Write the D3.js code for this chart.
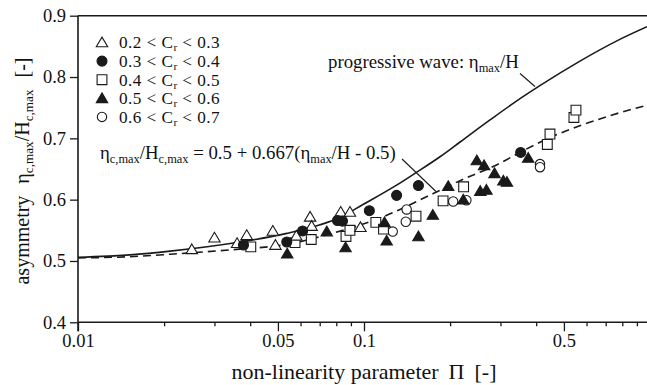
<!DOCTYPE html>
<html><head><meta charset="utf-8">
<script src="https://cdn.jsdelivr.net/npm/d3@7"></script>
<style>
html,body{margin:0;padding:0;background:#fff;}
svg text{font-family:"Liberation Serif","Times New Roman",serif !important;fill:#111;}
</style></head>
<body><svg id="chart" width="647" height="385"></svg>
<script>
// ---------- data (Π, η_c,max/H_c,max) ----------
const seriesLabels = ["0.2", "0.3", "0.4", "0.5", "0.6", "0.7"];
const triOpen = [[0.025,0.519],[0.030,0.538],[0.036,0.529],[0.0389,0.542],[0.048,0.549],[0.049,0.526],[0.058,0.541],[0.0648,0.572],[0.0656,0.557],[0.0829,0.580],[0.0893,0.580],[0.0972,0.555]];
const circFilled = [[0.0379,0.526],[0.0537,0.531],[0.061,0.549],[0.0808,0.566],[0.0841,0.565],[0.1044,0.582],[0.130,0.607],[0.155,0.623],[0.353,0.677]];
const sqOpen = [[0.0402,0.523],[0.0574,0.530],[0.0654,0.535],[0.0865,0.540],[0.0893,0.550],[0.110,0.563],[0.117,0.552],[0.152,0.573],[0.189,0.598],[0.223,0.621],[0.4375,0.690],[0.447,0.707],[0.542,0.734],[0.551,0.746]];
const triFilled = [[0.0539,0.512],[0.0741,0.548],[0.0862,0.522],[0.118,0.563],[0.120,0.533],[0.155,0.540],[0.174,0.575],[0.197,0.622],[0.2224,0.600],[0.248,0.664],[0.263,0.656],[0.286,0.643],[0.307,0.631],[0.316,0.629],[0.255,0.614],[0.268,0.616],[0.375,0.668]];
const circOpen = [[0.126,0.548],[0.140,0.564],[0.141,0.584],[0.205,0.597],[0.228,0.599],[0.4125,0.658],[0.4125,0.653]];
const progressive = [[0.01,0.506],[0.0152,0.510],[0.021,0.516],[0.0359,0.530],[0.0537,0.545],[0.0702,0.559],[0.0824,0.571],[0.0992,0.592],[0.1304,0.624],[0.152,0.644],[0.1844,0.670],[0.2167,0.694],[0.2758,0.730],[0.3597,0.768],[0.412,0.786],[0.569,0.826],[0.766,0.859],[0.976,0.882]];
const fitted = [[0.01,0.505],[0.0152,0.507],[0.021,0.511],[0.0359,0.519],[0.0537,0.527],[0.076,0.544],[0.1138,0.570],[0.1747,0.610],[0.2167,0.631],[0.2917,0.657],[0.3605,0.680],[0.4365,0.699],[0.725,0.737],[0.976,0.754]];
const xMajorTicks = [0.01, 0.05, 0.1, 0.5];
const xMinorTicks = [0.02,0.03,0.04,0.06,0.07,0.08,0.09,0.2,0.3,0.4,0.6,0.7,0.8,0.9];
const yTicks = [0.4, 0.5, 0.6, 0.7, 0.8, 0.9];

// ---------- layout ----------
const FONT = "'Liberation Serif','Times New Roman',serif";
const svg = d3.select("#chart");
const x = d3.scaleLog().domain([0.01, 1]).range([78, 650]);
const y = d3.scaleLinear().domain([0.4, 0.9]).range([322.3, 15.7]);
const ink = "#1a1a1a";

// frame line at top
svg.append("line").attr("x1",78).attr("x2",647).attr("y1",y(0.9)).attr("y2",y(0.9)).attr("stroke",ink).attr("stroke-width",1.6);

// x axis
const gx = svg.append("g").attr("transform",`translate(0,${y(0.4)})`);
gx.call(d3.axisBottom(x).tickValues(xMajorTicks).tickFormat(d => String(d)).tickSize(9).tickPadding(3));
const gxm = svg.append("g").attr("transform",`translate(0,${y(0.4)})`);
gxm.call(d3.axisBottom(x).tickValues(xMinorTicks).tickFormat("").tickSize(4));
gxm.select(".domain").remove();
[gx,gxm].forEach(g=>{g.attr("font-family",FONT); g.selectAll("line").attr("stroke",ink).attr("stroke-width",1.3);});
gx.select(".domain").attr("stroke",ink).attr("stroke-width",1.6).attr("d",`M78,0H647`);
gx.selectAll("text").style("font-family",FONT).style("font-size","18.5px").attr("fill","#111");

// y axis
const gy = svg.append("g").attr("transform","translate(78,0)").attr("font-family",FONT);
gy.call(d3.axisLeft(y).tickValues(yTicks).tickFormat(d3.format(".1f")).tickSize(8).tickPadding(4));
gy.selectAll("line").attr("stroke",ink).attr("stroke-width",1.3);
gy.select(".domain").attr("stroke",ink).attr("stroke-width",1.6).attr("d",`M0,${y(0.9)}V${y(0.4)+9}`);
gy.selectAll("text").style("font-family",FONT).style("font-size","18.5px").attr("fill","#111");

// rich text helper
function rich(sel, parts, size, subShift){
  const ss = subShift || 4;
  let shift = 0;
  sel.style("font-family",FONT);
  parts.forEach(p=>{
    const sub = !!p.sub;
    const target = sub ? ss : 0;
    const t = sel.append("tspan").text(p.t).style("font-size", (sub ? size*0.66 : size)+"px");
    if (p.dx) t.attr("dx", p.dx);
    if (target !== shift){ t.attr("dy", target - shift); shift = target; }
  });
}

// curves
const line = d3.line().x(d=>x(d[0])).y(d=>y(d[1])).curve(d3.curveMonotoneX);
svg.append("path").datum(progressive).attr("d",line).attr("fill","none").attr("stroke",ink).attr("stroke-width",1.6);
svg.append("path").datum(fitted).attr("d",line).attr("fill","none").attr("stroke",ink).attr("stroke-width",1.6).attr("stroke-dasharray","8,5");

// markers
function shapePath(type, cx, cy){
  if(type==="tri"){ return `M${cx},${cy-5.4}L${cx+5.7},${cy+4.3}L${cx-5.7},${cy+4.3}Z`; }
  if(type==="sq"){ return `M${cx-4.9},${cy-4.9}h9.8v9.8h-9.8Z`; }
  const p = d3.path(); p.arc(cx,cy,type==="circF"?5:4.7,0,2*Math.PI); return p.toString();
}
const groups = [
  {data:circOpen, type:"circ", fill:"#fff"},
  {data:sqOpen, type:"sq", fill:"#fff"},
  {data:triOpen, type:"tri", fill:"#fff"},
  {data:circFilled, type:"circF", fill:ink},
  {data:triFilled, type:"tri", fill:ink}
];
groups.forEach(g=>{
  svg.append("g").selectAll("path").data(g.data).join("path")
    .attr("d", d=>shapePath(g.type, x(d[0]), y(d[1])))
    .attr("fill", g.fill).attr("stroke", ink).attr("stroke-width",1.1);
});

// legend
const legendItems = [
  {type:"tri", fill:"#fff"},
  {type:"circF", fill:ink},
  {type:"sq", fill:"#fff"},
  {type:"tri", fill:ink},
  {type:"circ", fill:"#fff"}
];
legendItems.forEach((it,i)=>{
  const cy = 42.5 + i*18.6;
  svg.append("path").attr("d", shapePath(it.type, 102, cy)).attr("fill", it.fill).attr("stroke", ink).attr("stroke-width",1.1);
  const t = svg.append("text").attr("x",119).attr("y",cy+5.8).style("letter-spacing","0.45px");
  rich(t, [{t:seriesLabels[i]+" < C"},{t:"r",sub:true},{t:" < "+seriesLabels[i+1]}], 17.2, 3);
});

// annotations
const eq = svg.append("text").attr("x",100).attr("y",159);
rich(eq, [{t:"η"},{t:"c,max",sub:true},{t:"/H"},{t:"c,max",sub:true},{t:" = 0.5 + 0.667(η"},{t:"max",sub:true},{t:"/H - 0.5)"}], 18.8);
svg.append("line").attr("x1",402).attr("y1",159).attr("x2",436).attr("y2",191.5).attr("stroke",ink).attr("stroke-width",1.1);

const pw = svg.append("text").attr("x",328).attr("y",67.5);
rich(pw, [{t:"progressive wave: η"},{t:"max",sub:true},{t:"/H"}], 18.8);
svg.append("line").attr("x1",520).attr("y1",73.5).attr("x2",535).attr("y2",86.5).attr("stroke",ink).attr("stroke-width",1.1);

// axis titles
const xt = svg.append("text").attr("x",364).attr("y",379).attr("text-anchor","middle");
rich(xt, [{t:"non-linearity parameter"},{t:"Π",dx:10},{t:"[-]",dx:10}], 22);
const yt = svg.append("text").attr("transform","translate(29,171) rotate(-90)").attr("text-anchor","middle");
rich(yt, [{t:"asymmetry"},{t:"η",dx:12},{t:"c,max",sub:true},{t:"/H"},{t:"c,max",sub:true},{t:"[-]",dx:12}], 20);
</script></body></html>
